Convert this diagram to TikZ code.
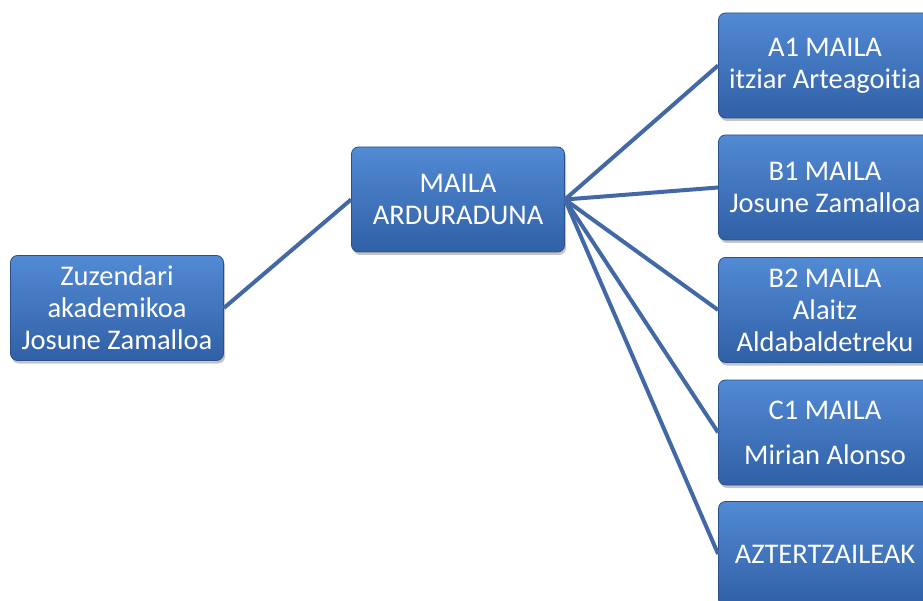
\documentclass[tikz,border=0pt]{standalone}
\usepackage{fontspec}
\setmainfont{Carlito}[Ligatures=NoCommon]
\usetikzlibrary{shadows}
\definecolor{boxtop}{RGB}{82,138,212}
\definecolor{boxbot}{RGB}{48,96,166}
\definecolor{boxline}{RGB}{40,80,140}
\definecolor{conn}{RGB}{66,105,165}
\tikzset{
  orgbox/.style={draw=boxline, line width=0.8pt, rounded corners=7pt,
    top color=boxtop, bottom color=boxbot, minimum width=213pt,
    text=white, align=center, inner sep=0pt,
    font=\fontsize{28.5}{32}\selectfont,
    drop shadow={shadow xshift=1.5pt, shadow yshift=-3pt, fill=black!45, opacity=0.5}},
  conline/.style={draw=conn, line width=4pt}
}
\begin{document}
\begin{tikzpicture}[x=1pt,y=-1pt]
\useasboundingbox (0,0) rectangle (923,601);
\begin{scope}
\clip (0,0) rectangle (923,601);
\node[orgbox, minimum height=105pt] (zuz) at (117,308) {Zuzendari\\akademikoa\\Josune Zamalloa};
\node[orgbox, minimum height=105pt] (mai) at (458,199.5) {MAILA\\ARDURADUNA};
\node[orgbox, minimum height=105pt] (a1) at (825,65.5) {A1 MAILA\\itziar Arteagoitia};
\node[orgbox, minimum height=105pt] (b1) at (825,187.5) {B1 MAILA\\Josune Zamalloa};
\node[orgbox, minimum height=105pt] (b2) at (825,310) {B2 MAILA\\Alaitz\\Aldabaldetreku};
\node[orgbox, minimum height=105pt] (c1) at (825,432.5) {C1 MAILA\\[13pt]Mirian Alonso};
\node[orgbox, minimum height=105pt] (az) at (825,554) {AZTERTZAILEAK};
\draw[conline] (zuz.east) -- (mai.west);
\draw[conline] (mai.east) -- (a1.west);
\draw[conline] (mai.east) -- (b1.west);
\draw[conline] (mai.east) -- (b2.west);
\draw[conline] (mai.east) -- (c1.west);
\draw[conline] (mai.east) -- (az.west);
\end{scope}
\end{tikzpicture}
\end{document}
